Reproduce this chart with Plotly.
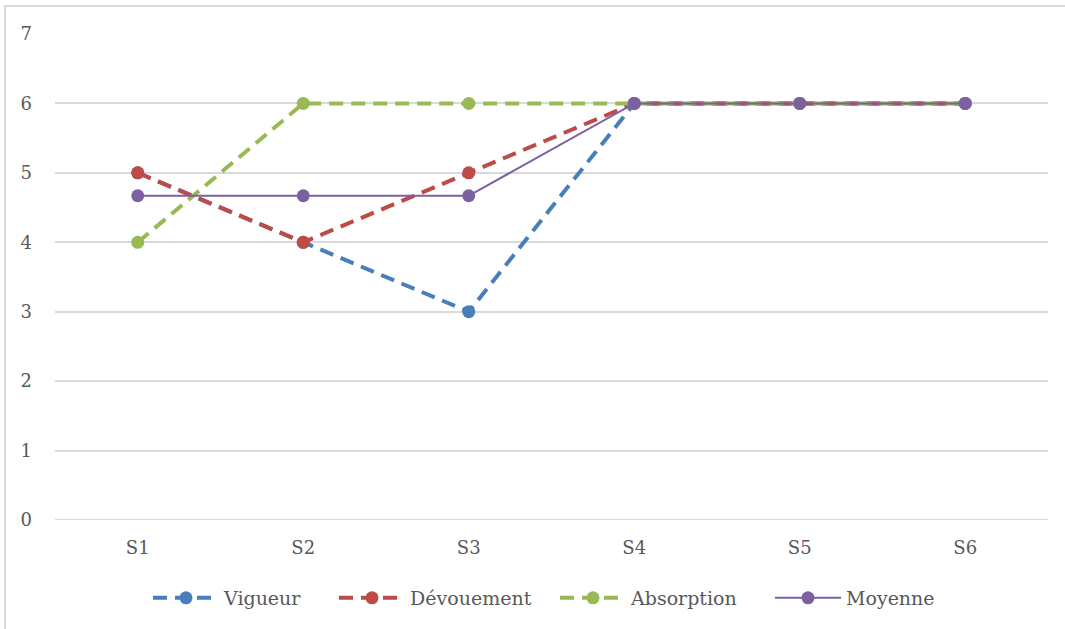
import plotly.graph_objects as go

categories = ["S1", "S2", "S3", "S4", "S5", "S6"]
vigueur = [5, 4, 3, 6, 6, 6]
devouement = [5, 4, 5, 6, 6, 6]
absorption = [4, 6, 6, 6, 6, 6]
moyenne = [4.67, 4.67, 4.67, 6, 6, 6]

series = [
    ("Vigueur", vigueur, "#4A7EBB", 4, "14px,8px"),
    ("Dévouement", devouement, "#BE4B48", 4, "14px,8px"),
    ("Absorption", absorption, "#98B954", 4, "14px,8px"),
    ("Moyenne", moyenne, "#7D60A0", 2, "solid"),
]
legend_ids = ["legend", "legend2", "legend3", "legend4"]
legend_px = [148, 334, 555, 770]

L, R, T, B = 55, 17, 34, 109
W, H = 1065, 629
pw = W - L - R
ph = H - T - B

font = "DejaVu Serif, Liberation Serif, serif"

fig = go.Figure()
for (name, vals, color, w, dash), lid in zip(series, legend_ids):
    fig.add_trace(go.Scatter(
        x=categories, y=vals, name=name, mode="lines+markers",
        line=dict(color=color, width=w, dash=dash),
        marker=dict(color=color, size=13),
        legend=lid,
    ))

legend_cfg = {}
for lid, px in zip(legend_ids, legend_px):
    legend_cfg[lid] = dict(
        orientation="h", x=(px - L) / pw, xanchor="left",
        y=(T + ph - 598) / ph, yanchor="middle",
        font=dict(size=19, color="#595959", family=font),
        itemwidth=66, bgcolor="rgba(0,0,0,0)",
    )

fig.update_layout(
    width=W, height=H,
    margin=dict(l=L, r=R, t=T, b=B),
    paper_bgcolor="white", plot_bgcolor="white",
    font=dict(family=font, size=18, color="#595959"),
    showlegend=True,
    xaxis=dict(range=[-0.5, 5.5], showgrid=False, showline=False, zeroline=False,
               ticks="", ticklabelstandoff=15),
    yaxis=dict(range=[0, 7], dtick=1, showgrid=True, gridcolor="#D9D9D9", gridwidth=2,
               zeroline=False, showline=False, ticks="", ticklabelstandoff=22),
    shapes=[dict(type="rect", xref="paper", yref="paper",
                 x0=(5 - L) / pw, x1=(W + 20 - L) / pw,
                 y0=-(H + 20 - T - ph) / ph, y1=1 + (T - 6) / ph,
                 line=dict(color="#D9D9D9", width=2), fillcolor="rgba(0,0,0,0)",
                 layer="below")],
    **legend_cfg,
)
fig.add_shape(type="line", xref="paper", yref="y", x0=0, x1=1, y0=0, y1=0,
              line=dict(color="#D9D9D9", width=2), layer="below")

fig.write_html("out.html", config={"displayModeBar": False},
               post_script="document.body.style.margin='0';")
